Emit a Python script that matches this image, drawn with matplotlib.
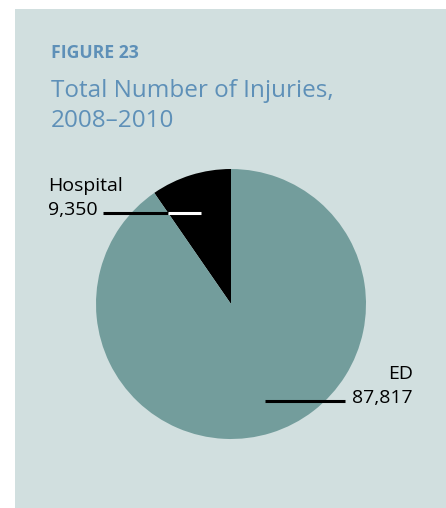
import numpy as np
import matplotlib.pyplot as plt
from matplotlib.patches import Rectangle

W, H = 446, 508

labels = ['Hospital', 'ED']
counts = [9350, 87817]
colors = ['#000000', '#739d9c']

panel_color = '#d1dfdf'
blue = '#5e90b8'

plt.rcParams['font.family'] = ['Open Sans', 'DejaVu Sans']

fig = plt.figure(figsize=(W / 100, H / 100), dpi=100, facecolor='white')


def fx(px):
    return px / W


def fy(py):
    return 1 - py / H


# background panel
fig.patches.append(Rectangle((fx(15), 0), 1 - fx(15), fy(9), transform=fig.transFigure,
                             facecolor=panel_color, edgecolor='none', zorder=-1))

fig.text(fx(51), fy(58), 'FIGURE 23', color=blue, fontsize=12.7, fontweight='bold')
fig.text(fx(51), fy(97), 'Total Number of Injuries,', color=blue, fontsize=17.5)
fig.text(fx(51), fy(127), '2008\u20132010', color=blue, fontsize=17.5)

# pie centred at (231, 304) px, radius 135 px
cx, cy, r = 231, 304, 135
ax = fig.add_axes([fx(cx - r), fy(cy + r), 2 * r / W, 2 * r / H], zorder=1)
ax.pie(counts, colors=colors, startangle=90, counterclock=True,
       wedgeprops=dict(linewidth=0))
ax.set_xlim(-1, 1)
ax.set_ylim(-1, 1)
ax.set_aspect('auto')
ax.axis('off')


def dx(px):
    return (px - cx) / r


def dy(py):
    return (cy - py) / r


# hospital leader: black over the teal part, white inside the black wedge
frac = counts[0] / sum(counts)
edge = np.deg2rad(90 + 360 * frac)
ly = dy(213)
x_edge = ly * np.cos(edge) / np.sin(edge)
ax.plot([dx(103), x_edge], [ly, ly], color='black', lw=2.2, clip_on=False, solid_capstyle='butt')
ax.plot([x_edge, dx(201)], [ly, ly], color='white', lw=2.2, clip_on=False, solid_capstyle='butt')

# ED leader
ax.plot([dx(265), dx(345)], [dy(401), dy(401)], color='black', lw=2.2, clip_on=False,
        solid_capstyle='butt')

fig.text(fx(48), fy(191), labels[0], fontsize=14, color='black')
fig.text(fx(48), fy(215), f'{counts[0]:,}', fontsize=14, color='black')
fig.text(fx(413), fy(379), labels[1], fontsize=14, color='black', ha='right')
fig.text(fx(413), fy(403), f'{counts[1]:,}', fontsize=14, color='black', ha='right')

fig.savefig('out.png', dpi=100, facecolor='white')
